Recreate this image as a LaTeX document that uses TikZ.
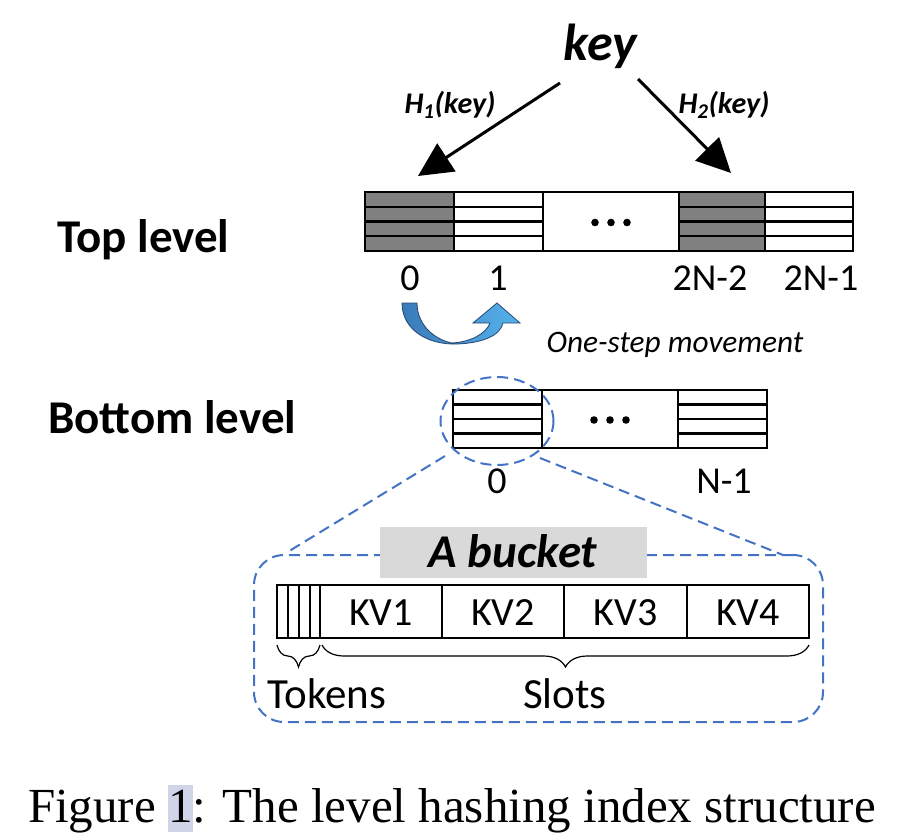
\documentclass[tikz,border=0pt]{standalone}
\usepackage{fontspec}
\setmainfont{Carlito}
\newfontfamily\capfont{Liberation Serif}
\usetikzlibrary{arrows.meta,decorations.pathreplacing,calc,shapes.geometric}
\definecolor{dashblue}{RGB}{68,114,196}
\definecolor{cellgray}{RGB}{128,128,128}
\definecolor{labelgray}{RGB}{217,217,217}
\definecolor{arrdark}{RGB}{58,122,186}
\definecolor{arrlight}{RGB}{86,178,236}
\definecolor{arredge}{RGB}{40,70,110}
\definecolor{hl}{RGB}{208,212,232}
\tikzset{
  cell/.style={draw=black, line width=2.3pt, minimum width=#1, minimum height=59, inner sep=0pt, outer sep=0pt},
  bcell/.style={draw=black, line width=2.3pt, minimum width=#1, minimum height=58, inner sep=0pt, outer sep=0pt},
  kvcell/.style={draw=black, line width=1.8pt, minimum width=#1, minimum height=53, inner sep=0pt, outer sep=0pt},
  stripe/.style={draw=black, line width=2.3pt},
  bigarrow/.style={line width=3pt, -{Triangle[length=34pt,width=33pt]}},
  bluedash/.style={draw=dashblue, line width=2pt, dash pattern=on 11pt off 6pt},
  lbl/.style={inner sep=0pt, anchor=base, font=\fontsize{38}{40}\selectfont},
  kvlbl/.style={inner sep=0pt, anchor=base, font=\fontsize{40}{42}\selectfont},
  lvl/.style={inner sep=0pt, anchor=base west, font=\bfseries\fontsize{47}{49}\selectfont},
  hlbl/.style={inner sep=0pt, anchor=base, font=\bfseries\itshape\fontsize{30}{32}\selectfont},
  bracestyle/.style={draw=black, line width=1.2pt, decorate, decoration={brace, mirror, amplitude=22pt}},
  dot/.style={fill=black},
}
\begin{document}
\begin{tikzpicture}[x=1pt,y=-1pt]
\useasboundingbox (0,0) rectangle (900,838);

% key and hash labels
\node[inner sep=0pt, anchor=base, font=\bfseries\itshape\fontsize{52}{54}\selectfont] (key) at (600,60) {key};
\node[hlbl] (h1) at (450,113) {H\textsubscript{1}(key)};
\node[hlbl] (h2) at (724,113) {H\textsubscript{2}(key)};

% level labels
\node[lvl] (toplvl) at (57,252) {Top level};
\node[lvl] (botlvl) at (48,433) {Bottom level};

% top level buckets
\node[cell=89, fill=cellgray] (t0) at (409.5,221.5) {};
\node[cell=89] (t1) at (498.5,221.5) {};
\node[cell=136] (tdots) at (611,221.5) {};
\node[cell=86, fill=cellgray] (t2) at (722,221.5) {};
\node[cell=88] (t3) at (809,221.5) {};
\foreach \b in {t0,t1,t2,t3}{
  \foreach \f in {0.25,0.5,0.75}{
    \draw[stripe] ($(\b.north west)!\f!(\b.south west)$) -- ($(\b.north east)!\f!(\b.south east)$);
  }
}
\foreach \dx in {-16,0,16}{
  \fill[dot] ($(tdots.center)+(\dx,1)$) circle (3.8);
}

% hash arrows
\coordinate (a1s) at (560,83);
\coordinate (a1e) at (418,176);
\coordinate (a2s) at (638,79);
\coordinate (a2e) at (731,173);
\draw[bigarrow] (a1s) -- (a1e);
\draw[bigarrow] (a2s) -- (a2e);

% top indices
\node[lbl] (i0) at (410,290) {0};
\node[lbl] (i1) at (498,290) {1};
\node[lbl] (i2) at (710,290) {2N-2};
\node[lbl] (i3) at (821,290) {2N-1};

% curved one-step arrow
\path[draw=arredge, line width=0.8pt, left color=arrdark, right color=arrlight]
  (402,303) .. controls (402,330) and (428,345) .. (457,344)
  .. controls (482,343) and (500,336) .. (503,323)
  -- (520,323) -- (497,303) -- (473,323) -- (490,323)
  .. controls (486,334) and (470,342) .. (452,343)
  .. controls (436,340) and (417,326) .. (417,303) -- cycle;
\node[inner sep=0pt, anchor=base, font=\itshape\fontsize{31.3}{33}\selectfont] (move) at (675,352) {One-step movement};

% bottom level buckets
\node[bcell=89] (b0) at (497.5,419) {};
\node[bcell=136] (bdots) at (610,419) {};
\node[bcell=89] (b1) at (722.5,419) {};
\foreach \b in {b0,b1}{
  \foreach \f in {0.25,0.5,0.75}{
    \draw[stripe] ($(\b.north west)!\f!(\b.south west)$) -- ($(\b.north east)!\f!(\b.south east)$);
  }
}
\foreach \dx in {-16,0,16}{
  \fill[dot] ($(bdots.center)+(\dx,1)$) circle (3.8);
}
\node[lbl] (j0) at (497,493) {0};
\node[lbl] (j1) at (724,493) {N-1};

% zoom ellipse and detail box
\node[ellipse, bluedash, minimum width=113, minimum height=88, inner sep=0pt] (zoomell) at (497,421) {};
\node[bluedash, rounded corners=30pt, minimum width=569, minimum height=167, inner sep=0pt] (detail) at (538.5,638.5) {};
\coordinate (zl) at (445,456);
\coordinate (zr) at (540,458);
\coordinate (dl) at (286,553);
\coordinate (dr) at (783,555);
\draw[bluedash] (zl) -- (dl);
\draw[bluedash] (zr) -- (dr);

\node[fill=labelgray, minimum width=267, minimum height=51, inner sep=0pt] (bktbox) at (513.5,552.5) {};
\node[inner sep=0pt, anchor=base, font=\bfseries\itshape\fontsize{47}{49}\selectfont] (bkt) at (513,567) {A bucket};

% bucket contents
\node[kvcell=43] (tok) at (298.5,611.5) {};
\foreach \x in {288,299,310}{
  \draw[line width=1.8pt] (\x,585) -- (\x,638);
}
\node[kvcell=122] (kv1) at (381,611.5) {};
\node[kvcell=122] (kv2) at (503,611.5) {};
\node[kvcell=123] (kv3) at (625.5,611.5) {};
\node[kvcell=122] (kv4) at (748,611.5) {};
\node[kvlbl] at (381,625) {KV1};
\node[kvlbl] at (503,625) {KV2};
\node[kvlbl] at (625.5,625) {KV3};
\node[kvlbl] at (748,625) {KV4};

% braces
\coordinate (tbl) at (277,645);
\coordinate (tbr) at (320,645);
\coordinate (sbl) at (322,645);
\coordinate (sbr) at (809,645);
\draw[bracestyle] (tbl) -- (tbr);
\draw[bracestyle] (sbl) -- (sbr);
\node[inner sep=0pt, anchor=base west, font=\fontsize{43}{45}\selectfont] (tokens) at (267,708) {Tokens};
\node[inner sep=0pt, anchor=base, font=\fontsize{43}{45}\selectfont] (slots) at (565,708) {Slots};

% caption
\node[inner sep=0pt, anchor=base, font=\capfont\fontsize{49}{51}\selectfont] (cap) at (452,822)
  {Figure {\setlength\fboxsep{0pt}\colorbox{hl}{\rule[-0.2em]{0pt}{0.95em}1}}: The level hashing index structure};
\end{tikzpicture}
\end{document}
